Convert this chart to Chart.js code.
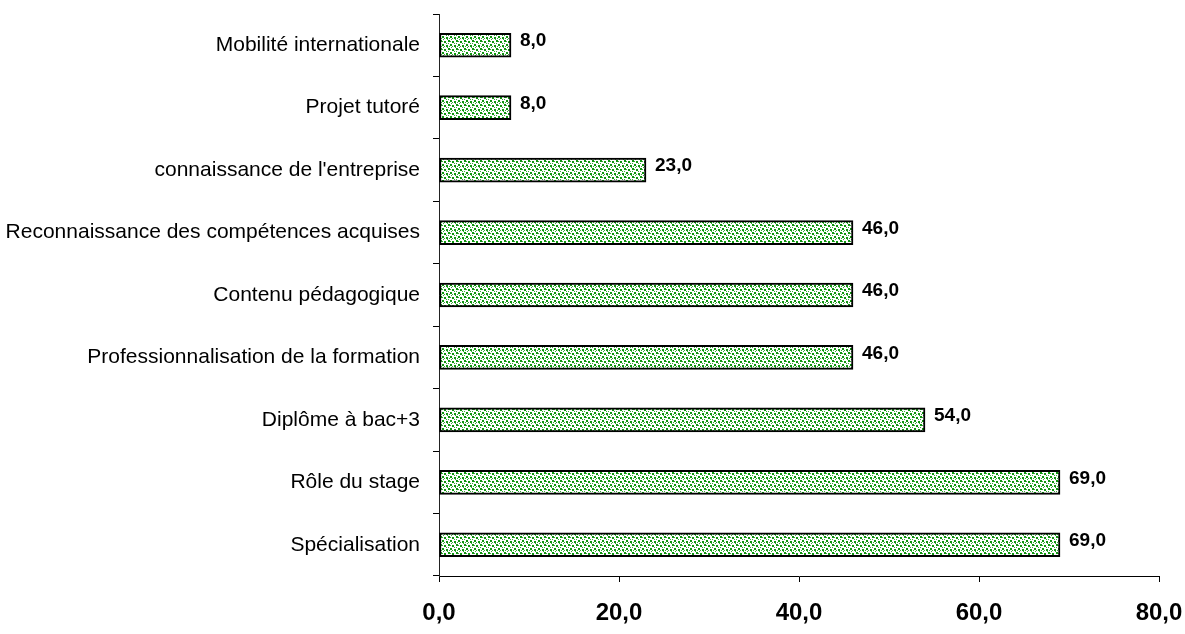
<!DOCTYPE html>
<html>
<head>
<meta charset="utf-8">
<script src="https://cdn.jsdelivr.net/npm/chart.js@4"></script>
<style>
    html, body { margin: 0; padding: 0; background: #fff; }
    #wrap { width: 1185px; height: 634px; }
</style>
</head>
<body>
<div id="wrap"><canvas id="chart" width="1185" height="634"></canvas></div>
<script>
const categories = [
    'Mobilité internationale',
    'Projet tutoré',
    "connaissance de l'entreprise",
    'Reconnaissance des compétences acquises',
    'Contenu pédagogique',
    'Professionnalisation de la formation',
    'Diplôme à bac+3',
    'Rôle du stage',
    'Spécialisation'
];
const values = [8, 8, 23, 46, 46, 46, 54, 69, 69];
const xTicks = [0, 20, 40, 60, 80];

const numFont = '"Liberation Sans", Arial, sans-serif';

function fmt(v) {
    return Number(v).toFixed(1).replace('.', ',');
}

// dotted green fill like the original
function makePattern() {
    const tile = document.createElement('canvas');
    tile.width = 8;
    tile.height = 8;
    const t = tile.getContext('2d');
    t.fillStyle = '#ffffff';
    t.fillRect(0, 0, 8, 8);
    t.fillStyle = '#0f960f';
    [[0, 0], [4, 1], [2, 4], [6, 5]].forEach(p => t.fillRect(p[0], p[1], 2, 2));
    t.fillStyle = '#3aa83a';
    [[2, 1], [6, 3], [0, 3], [4, 6], [7, 7], [1, 6], [3, 7]].forEach(p => t.fillRect(p[0], p[1], 1, 1));
    return document.getElementById('chart').getContext('2d').createPattern(tile, 'repeat');
}

const valueLabels = {
    id: 'valueLabels',
    afterDatasetsDraw(chart) {
        const ctx = chart.ctx;
        const meta = chart.getDatasetMeta(0);
        ctx.save();
        ctx.font = 'bold 19px ' + numFont;
        ctx.fillStyle = '#000';
        ctx.textAlign = 'left';
        ctx.textBaseline = 'middle';
        meta.data.forEach((bar, i) => {
            ctx.fillText(fmt(values[i]), bar.x + 9, bar.y - 4);
        });
        ctx.restore();
    }
};

const ctx = document.getElementById('chart').getContext('2d');

new Chart(ctx, {
    type: 'bar',
    data: {
        labels: categories,
        datasets: [{
            data: values,
            backgroundColor: makePattern(),
            borderColor: '#000',
            borderWidth: 2,
            borderSkipped: false,
            barThickness: 24
        }]
    },
    options: {
        indexAxis: 'y',
        responsive: false,
        animation: false,
        layout: {
            padding: { top: 14, right: 26, left: 0, bottom: 0 }
        },
        plugins: {
            legend: { display: false },
            tooltip: { enabled: false }
        },
        scales: {
            x: {
                min: 0,
                max: 80,
                afterBuildTicks: scale => {
                    scale.ticks = xTicks.map(v => ({ value: v }));
                },
                afterFit: scale => {
                    scale.height = 58;
                    scale.paddingLeft = 0;
                    scale.paddingRight = 0;
                },
                border: { color: '#000', width: 1 },
                grid: {
                    drawOnChartArea: false,
                    color: '#000',
                    tickLength: 6
                },
                ticks: {
                    color: '#000',
                    padding: 17,
                    font: { family: numFont, size: 24, weight: 'bold' },
                    callback: v => fmt(v)
                }
            },
            y: {
                afterFit: scale => {
                    scale.width = 439;
                    scale.paddingTop = 0;
                    scale.paddingBottom = 0;
                },
                border: { color: '#222', width: 1 },
                grid: {
                    drawOnChartArea: false,
                    offset: true,
                    color: '#000',
                    tickLength: 6
                },
                ticks: {
                    color: '#000',
                    padding: 13,
                    font: { family: '"Liberation Sans", Arial, sans-serif', size: 21 }
                }
            }
        }
    },
    plugins: [valueLabels]
});
</script>
</body>
</html>
